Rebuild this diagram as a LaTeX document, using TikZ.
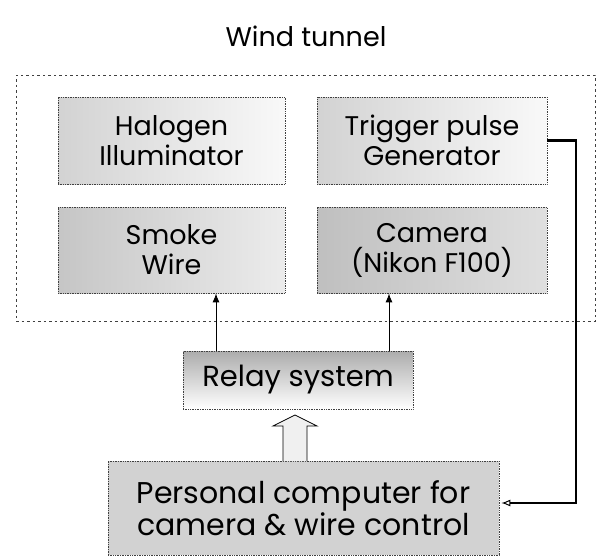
\documentclass[tikz,border=0pt]{standalone}
\usepackage{fontspec}
\setmainfont{Poppins}
\usetikzlibrary{arrows.meta}
\begin{document}
\begin{tikzpicture}[x=1pt,y=-1pt,
  box/.style={draw=black!75, line width=0.7pt, densely dotted, inner sep=0pt, align=center,
    font=\fontsize{27}{30}\selectfont},
  outerbox/.style={draw=black!75, line width=0.6pt, dash pattern=on 2.5pt off 3pt},
  sig/.style={line width=1pt, -{Latex[length=9pt,width=7pt]}},
  trig/.style={line width=2.8pt, -{Latex[length=9pt,width=7pt,open,line width=1pt]}, shorten >=2pt},
  hollow/.style={draw=black, line width=0.8pt, fill=gray!12}
]
\useasboundingbox (0,0) rectangle (598,557);
\node[font=\fontsize{27}{30}\selectfont] (title) at (306,36) {Wind tunnel};
\node[outerbox, minimum width=579pt, minimum height=246pt] (tunnel) at (305.5,198) {};
\node[box, minimum width=227pt, minimum height=87pt, left color=gray!35, right color=gray!5] (halogen) at (171.5,140.5) {Halogen\\Illuminator};
\node[box, minimum width=230pt, minimum height=87pt, left color=gray!35, right color=gray!5] (trigger) at (432,140.5) {Trigger pulse\\Generator};
\node[box, minimum width=227pt, minimum height=86pt, left color=gray!45, right color=gray!15] (smoke) at (171.5,250) {Smoke\\Wire};
\node[box, minimum width=230pt, minimum height=86pt, left color=gray!50, right color=gray!25] (camera) at (432,250) {Camera\\(Nikon F100)};
\node[box, minimum width=230pt, minimum height=58pt, top color=gray!65, bottom color=white, font=\fontsize{29}{30}\selectfont] (relay) at (298,380) {Relay system};
\node[box, minimum width=391pt, minimum height=94pt, fill=gray!35, font=\fontsize{30}{32}\selectfont] (pc) at (303.5,508) {Personal computer for\\camera \& wire control};
\coordinate (a1) at (216,0);
\coordinate (a2) at (389,0);
\draw[sig] (relay.north -| a1) -- (smoke.south -| a1);
\draw[sig] (relay.north -| a2) -- (camera.south -| a2);
\coordinate (c) at (576,503);
\draw[trig] (trigger.east) -| (c) -- (c -| pc.east);
% hollow block arrow from pc to relay
\draw[hollow] (283,461) -- (283,426) -- (273,426) -- (295,415) -- (317,426) -- (307,426) -- (307,461);
\end{tikzpicture}
\end{document}
